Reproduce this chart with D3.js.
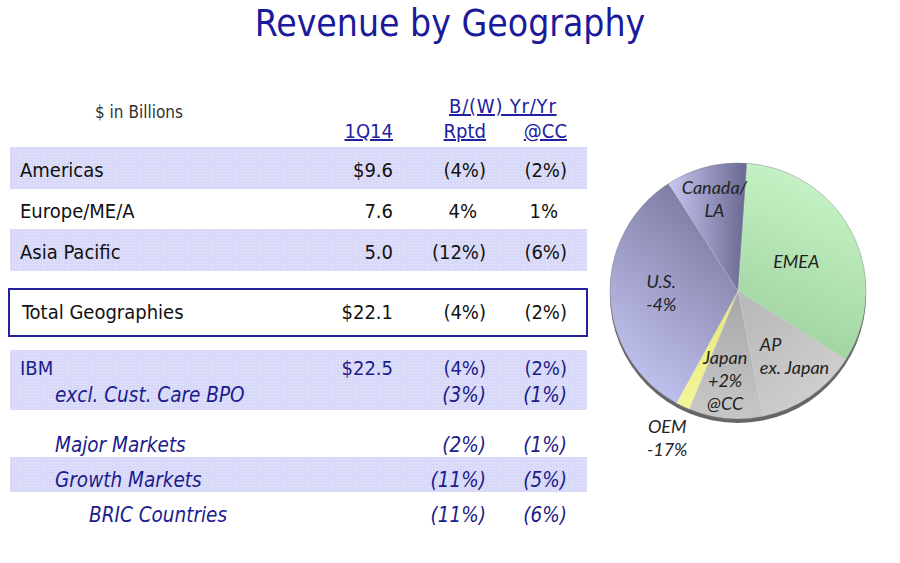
<!DOCTYPE html>
<html>
<head>
<meta charset="utf-8">
<title>Revenue by Geography</title>
<script src="https://cdn.jsdelivr.net/npm/d3@7"></script>
<style>
  html, body { margin: 0; padding: 0; background: #fff; }
  svg { display: block; }
  .tbl { font-family: "DejaVu Sans Condensed", "DejaVu Sans", sans-serif; }
  .pie-label { font-family: Lato, "Open Sans", sans-serif; font-style: italic; }
</style>
</head>
<body>
<div id="chart"></div>
<script>
// table data
var rowLabels = ['Americas', 'Europe/ME/A', 'Asia Pacific', 'Total Geographies',
  'IBM', 'excl. Cust. Care BPO', 'Major Markets', 'Growth Markets', 'BRIC Countries']
var revenue = [9.6, 7.6, 5.0, 22.1, 22.5, null, null, null, null]
var dollarSign = [true, false, false, true, true, false, false, false, false]
var rptd = [-4, 4, -12, -4, -4, -3, -2, -11, -11]
var atCC = [-2, 1, -6, -2, -2, -1, -1, -5, -6]
var columnHeads = ['1Q14', 'Rptd', '@CC']
var groupHead = 'B/(W) Yr/Yr'
var unitsNote = '$ in Billions'

// pie data ($B)
var sliceNames = ['EMEA', 'AP ex. Japan', 'Japan', 'OEM', 'U.S.', 'Canada/LA']
var sliceValues = [7.4, 2.9, 2.1, 0.4, 7.4, 2.3]
var sliceLabels = [['EMEA'], ['AP', 'ex. Japan'], ['Japan', '+2%', '@CC'],
  ['OEM', '-17%'], ['U.S.', '-4%'], ['Canada/', 'LA']]

var width = 900
var height = 563
var navy = '#1c1c8c'

var svg = d3.select('#chart').append('svg')
  .attr('width', width)
  .attr('height', height)

var defs = svg.append('defs')

// dotted band fill, like the slide's texture
var pat = defs.append('pattern')
  .attr('id', 'band')
  .attr('width', 3).attr('height', 3)
  .attr('patternUnits', 'userSpaceOnUse')
pat.append('rect').attr('width', 3).attr('height', 3).attr('fill', '#d8d8f8')
pat.append('rect').attr('width', 1).attr('height', 1).attr('fill', '#e8e8fd')

// title
svg.append('text')
  .attr('class', 'tbl')
  .attr('x', 450).attr('y', 36)
  .attr('text-anchor', 'middle')
  .style('font-size', '37px')
  .attr('fill', '#1a1a9a')
  .text('Revenue by Geography')

// ---- table ----
var rowY = d3.scaleOrdinal()
  .domain(rowLabels)
  .range([177, 218, 259, 319, 375, 402, 452, 487, 522])
var rowX = d3.scaleOrdinal()
  .domain(rowLabels)
  .range([20, 20, 20, 22, 20, 55, 55, 55, 89])
var colRight = d3.scaleOrdinal()
  .domain(columnHeads)
  .range([393, 486, 567])

var table = svg.append('g').attr('class', 'tbl')

// shaded bands: [first row, last row]
var bands = [[0, 0], [2, 2], [4, 5], [7, 7]]
table.selectAll('rect.band')
  .data(bands)
  .enter()
  .append('rect')
  .attr('class', 'band')
  .attr('x', 10)
  .attr('width', 577)
  .attr('y', function(d) { return rowY(rowLabels[d[0]]) - (d[0] === 4 ? 25 : 30) })
  .attr('height', function(d) {
    return rowY(rowLabels[d[1]]) - rowY(rowLabels[d[0]]) + (d[0] === 4 ? 33 : (d[0] === 7 ? 35 : 42))
  })
  .attr('fill', 'url(#band)')

// total box
table.append('rect')
  .attr('x', 9).attr('y', 289)
  .attr('width', 578).attr('height', 47)
  .attr('fill', '#fff')
  .attr('stroke', '#22229a')
  .attr('stroke-width', 2)

// header
table.append('text')
  .attr('x', 95).attr('y', 118)
  .style('font-size', '17px')
  .attr('fill', '#333')
  .text(unitsNote)

table.append('text')
  .attr('x', 449).attr('y', 113)
  .style('font-size', '20px')
  .style('letter-spacing', '0.8px')
  .style('text-decoration', 'underline')
  .attr('fill', '#2020a0')
  .text(groupHead)

table.selectAll('text.colhead')
  .data(columnHeads)
  .enter()
  .append('text')
  .attr('class', 'colhead')
  .attr('x', function(d) { return colRight(d) })
  .attr('y', 138)
  .attr('text-anchor', 'end')
  .style('font-size', '20px')
  .style('text-decoration', 'underline')
  .attr('fill', '#2020a0')
  .text(function(d) { return d })

function rowColor(i) { return i < 4 ? '#111' : navy }
function rowItalic(i) { return i > 4 ? 'italic' : 'normal' }

var pct = function(v) {
  return v < 0 ? '(' + Math.abs(v) + '%)' : v + '%'
}
var money = d3.format('.1f')

var rows = table.selectAll('g.row')
  .data(rowLabels)
  .enter()
  .append('g')
  .attr('class', 'row')
  .attr('transform', function(d) { return 'translate(0,' + rowY(d) + ')' })
  .style('font-size', function(d, i) { return i > 4 ? '20.5px' : '20px' })
  .style('font-style', function(d, i) { return rowItalic(i) })
  .attr('fill', function(d, i) { return rowColor(i) })

rows.append('text')
  .attr('x', function(d) { return rowX(d) })
  .text(function(d) { return d })

rows.filter(function(d, i) { return revenue[i] !== null })
  .append('text')
  .attr('x', colRight('1Q14'))
  .attr('text-anchor', 'end')
  .text(function(d) {
    var i = rowLabels.indexOf(d)
    return (dollarSign[i] ? '$' : '') + money(revenue[i])
  })

// positive values sit left so the digits line up under the brackets
rows.append('text')
  .attr('x', function(d, i) { return colRight('Rptd') - (rptd[i] < 0 ? 0 : 9) })
  .attr('text-anchor', 'end')
  .text(function(d, i) { return pct(rptd[i]) })

rows.append('text')
  .attr('x', function(d, i) { return colRight('@CC') - (atCC[i] < 0 ? 0 : 9) })
  .attr('text-anchor', 'end')
  .text(function(d, i) { return pct(atCC[i]) })

// ---- pie ----
var r = 128
var cx = 738
var cy = 291
var start = 4 * Math.PI / 180

var pie = d3.pie().sort(null)
  .startAngle(start)
  .endAngle(start + 2 * Math.PI)
var arcs = pie(sliceValues)
var arc = d3.arc().innerRadius(0).outerRadius(r)

// fills: [outer stop, inner stop, gradient vector]
var sliceShade = [
  ['#c4f2c4', '#a2d4a2', [70, -110, 10, 30]],
  ['#d0d0d0', '#bababa', [90, 110, 10, 20]],
  ['#c6c6c6', '#a9a9a9', [-20, 120, 0, 10]],
  ['#f4f49a', '#e8e870', [-60, 110, 0, 0]],
  ['#c0c0ee', '#7e7ea4', [-120, 70, -10, -60]],
  ['#c8c8f4', '#6c6c94', [-70, -100, 5, -100]]
]
sliceShade.forEach(function(s, i) {
  var g = defs.append('linearGradient')
    .attr('id', 'slice' + i)
    .attr('gradientUnits', 'userSpaceOnUse')
    .attr('x1', s[2][0]).attr('y1', s[2][1])
    .attr('x2', s[2][2]).attr('y2', s[2][3])
  g.append('stop').attr('offset', 0).attr('stop-color', s[0])
  g.append('stop').attr('offset', 1).attr('stop-color', s[1])
})

var pieG = svg.append('g')
  .attr('transform', 'translate(' + cx + ',' + cy + ')')

// rim under the pie for the tilted look
pieG.append('path')
  .attr('d', d3.arc().innerRadius(0).outerRadius(r)({ startAngle: 0, endAngle: 2 * Math.PI }))
  .attr('transform', 'translate(0,4)')
  .attr('fill', '#666')

pieG.selectAll('path.slice')
  .data(arcs)
  .enter()
  .append('path')
  .attr('class', 'slice')
  .attr('d', arc)
  .attr('fill', function(d, i) { return 'url(#slice' + i + ')' })
  .attr('stroke', 'rgba(255,255,255,0.35)')
  .attr('stroke-width', 0.7)

pieG.append('path')
  .attr('d', arc({ startAngle: 0, endAngle: 2 * Math.PI }))
  .attr('fill', 'none')
  .attr('stroke', 'rgba(0,0,0,0.22)')
  .attr('stroke-width', 1)

// label distance as share of radius, per slice
var labelReach = [0.51, 0.62, 0.71, 1.28, 0.6, 0.74]
var lineH = 23

var labelG = pieG.selectAll('text.pie-label')
  .data(arcs)
  .enter()
  .append('text')
  .attr('class', 'pie-label')
  .style('font-size', '18px')
  .attr('fill', '#222')
  .attr('transform', function(d, i) {
    var a = d3.arc().innerRadius(r * labelReach[i]).outerRadius(r * labelReach[i])
    var c = a.centroid(d)
    return 'translate(' + c[0] + ',' + c[1] + ')'
  })
  .attr('text-anchor', function(d, i) { return sliceNames[i] === 'AP ex. Japan' ? 'start' : 'middle' })

labelG.each(function(d, i) {
  var lines = sliceLabels[i]
  var x0 = sliceNames[i] === 'AP ex. Japan' ? -23 : (sliceNames[i] === 'Japan' ? -4 : 0)
  d3.select(this).selectAll('tspan')
    .data(lines)
    .enter()
    .append('tspan')
    .attr('x', x0)
    .attr('y', function(t, j) { return (j - (lines.length - 1) / 2) * lineH + 6 })
    .text(function(t) { return t })
})
</script>
</body>
</html>
